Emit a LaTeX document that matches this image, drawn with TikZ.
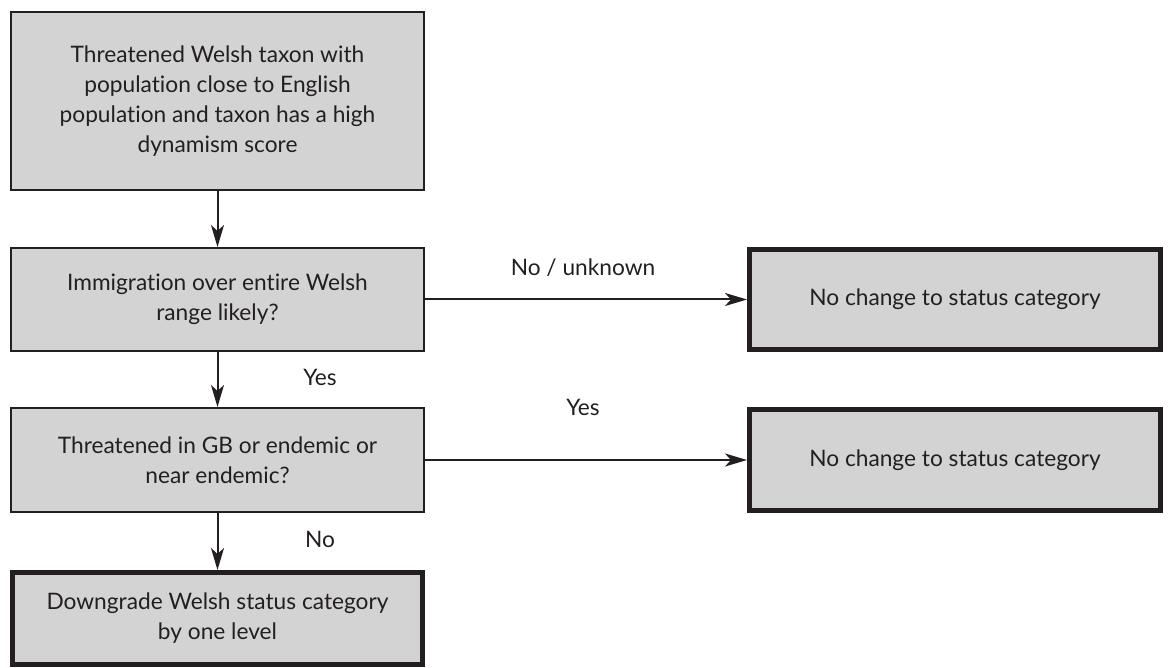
\documentclass[tikz,border=0pt]{standalone}
\usepackage{fontspec}
\setmainfont[Ligatures=NoCommon]{Lato}
\usetikzlibrary{arrows.meta}
\definecolor{boxfill}{HTML}{D3D3D3}
\definecolor{ink}{HTML}{231F20}
\begin{document}
\begin{tikzpicture}[x=1pt,y=-1pt,
  base/.style={draw=ink, fill=boxfill, text=ink, align=center, font=\fontsize{22.7}{30}\selectfont, inner sep=0pt, rectangle},
  thinbox/.style={base, line width=2pt},
  thickbox/.style={base, line width=5pt},
  arr/.style={draw=ink, line width=2pt, -{Stealth[length=22pt,width=13pt,inset=6pt]}},
  lab/.style={text=ink, font=\fontsize{22.7}{30}\selectfont, anchor=base, inner sep=0pt}]
\useasboundingbox (0,0) rectangle (1168,668);
\node[thinbox, minimum width=413pt, minimum height=178pt] (a) at (217.5,101)
  {Threatened Welsh taxon with\\population close to English\\population and taxon has a high\\dynamism score};
\node[thinbox, minimum width=413pt, minimum height=103pt] (b) at (217.5,299.5)
  {Immigration over entire Welsh\\range likely?};
\node[thinbox, minimum width=413pt, minimum height=104pt] (c) at (217.5,460)
  {Threatened in GB or endemic or\\near endemic?};
\node[thickbox, minimum width=410pt, minimum height=92pt] (d) at (217.5,618.5)
  {Downgrade Welsh status category\\by one level};
\node[thickbox, minimum width=411pt, minimum height=100pt] (e) at (955,299.5)
  {No change to status category};
\node[thickbox, minimum width=411pt, minimum height=101pt] (f) at (955,460)
  {No change to status category};
\draw[arr] (a.south) -- (b.north);
\draw[arr] (b.south) -- (c.north);
\draw[arr] (c.south) -- (d.north);
\draw[arr] (b.east) -- (e.west);
\draw[arr] (c.east) -- (f.west);
\node[lab] (l1) at (583,276) {No / unknown};
\node[lab] (l2) at (583,416) {Yes};
\node[lab] (l3) at (320,386) {Yes};
\node[lab] (l4) at (320,547) {No};
\end{tikzpicture}
\end{document}
